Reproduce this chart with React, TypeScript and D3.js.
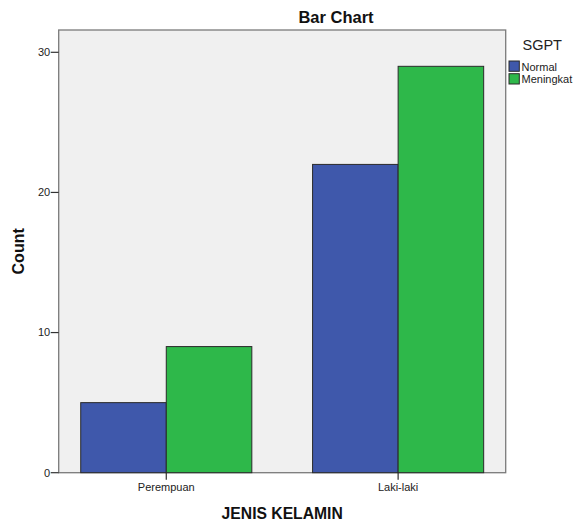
import React from 'react';
import * as d3 from 'd3';

const categories = ['Perempuan', 'Laki-laki'];
const seriesNames = ['Normal', 'Meningkat'];
const normalCounts = [5, 22];
const meningkatCounts = [9, 29];
const yTicks = [0, 10, 20, 30];
const seriesColors = ['#3F58AB', '#2EB84A'];

const FONT = 'Arial, "Liberation Sans", sans-serif';

const App: React.FC = () => {
  const width = 576;
  const height = 525;
  const plot = { left: 58.7, right: 505.7, top: 30, bottom: 472.7 };

  const yScale = d3
    .scaleLinear()
    .domain([0, 30])
    .range([plot.bottom, 52.3]);

  const xScale = d3
    .scaleBand()
    .domain(categories)
    .range([plot.left, plot.right])
    .paddingInner(0.262)
    .paddingOuter(0.095);

  const subScale = d3
    .scaleBand()
    .domain(seriesNames)
    .range([0, xScale.bandwidth()]);

  const values = [normalCounts, meningkatCounts];

  return (
    <svg
      width={width}
      height={height}
      style={{ position: 'absolute', left: 0, top: 0, fontFamily: FONT }}
    >
      <rect width={width} height={height} fill="#fff" />

      {/* plot frame */}
      <rect
        x={plot.left}
        y={plot.top}
        width={plot.right - plot.left}
        height={plot.bottom - plot.top}
        fill="#F0F0F0"
        stroke="#7a7a7a"
        strokeWidth={1.3}
      />

      {/* bars */}
      {categories.map((cat, i) =>
        seriesNames.map((s, j) => {
          const x = (xScale(cat) || 0) + (subScale(s) || 0);
          const y = yScale(values[j][i]);
          return (
            <rect
              key={cat + s}
              x={x}
              y={y}
              width={subScale.bandwidth()}
              height={plot.bottom - y}
              fill={seriesColors[j]}
              stroke="#2a2a2a"
              strokeWidth={1}
            />
          );
        })
      )}

      {/* y axis ticks */}
      {yTicks.map((t) => (
        <g key={t} transform={`translate(0,${yScale(t)})`}>
          <line x1={plot.left - 8} x2={plot.left} stroke="#333" strokeWidth={1.2} />
          <text
            x={plot.left - 8.5}
            dy="0.35em"
            textAnchor="end"
            fontSize={11}
            fill="#222"
          >
            {t}
          </text>
        </g>
      ))}

      {/* x axis ticks */}
      {categories.map((cat) => {
        const cx = (xScale(cat) || 0) + xScale.bandwidth() / 2;
        return (
          <g key={cat}>
            <line x1={cx} x2={cx} y1={plot.bottom} y2={plot.bottom + 7} stroke="#333" strokeWidth={1.2} />
            <text x={cx} y={491} textAnchor="middle" fontSize={11} fill="#222">
              {cat}
            </text>
          </g>
        );
      })}

      {/* titles */}
      <text x={336} y={23.3} textAnchor="middle" fontSize={16.5} fontWeight="bold" fill="#111">
        Bar Chart
      </text>
      <text
        x={(plot.left + plot.right) / 2}
        y={519.3}
        textAnchor="middle"
        fontSize={15.7}
        fontWeight="bold"
        fill="#111"
      >
        JENIS KELAMIN
      </text>
      <text
        transform={`translate(24,${(plot.top + plot.bottom) / 2}) rotate(-90)`}
        textAnchor="middle"
        fontSize={16}
        fontWeight="bold"
        fill="#111"
      >
        Count
      </text>

      {/* legend */}
      <text x={522.5} y={50} fontSize={14.5} fill="#222">
        SGPT
      </text>
      {seriesNames.map((s, j) => (
        <g key={s} transform={`translate(509,${61 + j * 12.7})`}>
          <rect width={10.3} height={10.3} fill={seriesColors[j]} stroke="#2a2a2a" strokeWidth={1} />
          <text x={12.5} y={9.6} fontSize={11} fill="#222">
            {s}
          </text>
        </g>
      ))}
    </svg>
  );
};

export default App;
